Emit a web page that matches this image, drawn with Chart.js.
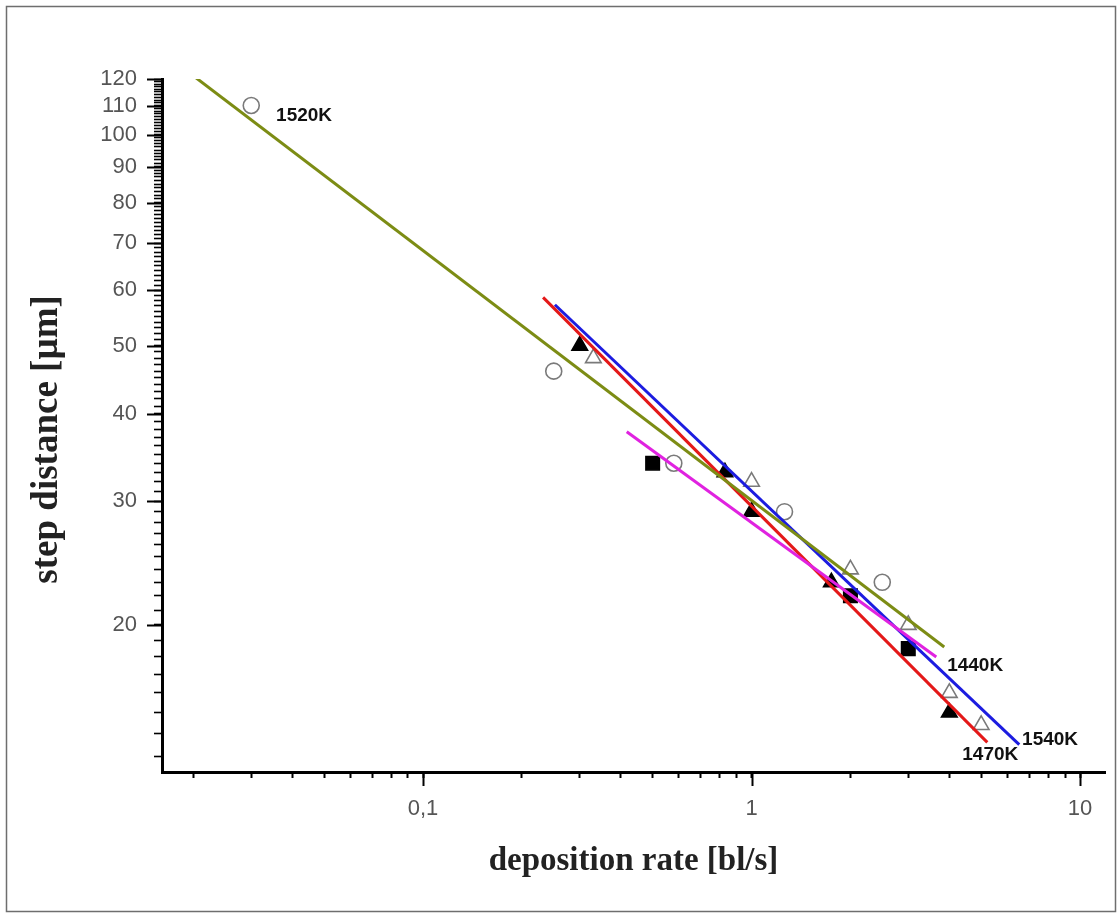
<!DOCTYPE html>
<html>
<head>
<meta charset="utf-8">
<script src="https://cdn.jsdelivr.net/npm/chart.js@4.4.1/dist/chart.umd.min.js"></script>
<style>
  html, body { margin: 0; padding: 0; background: #fff; }
  #wrap { position: relative; width: 1120px; height: 914px; }
</style>
</head>
<body>
<div id="wrap"><canvas id="c" width="1120" height="914"></canvas></div>
<script>
// ---- measured points (deposition rate [bl/s], step distance [µm]) ----
const rate1520 = [0.03, 0.25, 0.58, 1.26, 2.5];
const dist1520 = [110, 46, 34, 29, 23];
const rate1540 = [0.33, 1.0, 2.0, 3.0, 4.0, 5.0];
const dist1540 = [48, 32, 24, 20, 16, 14.4];
const rate1470 = [0.30, 0.83, 1.0, 1.75, 4.0];
const dist1470 = [50, 33, 29, 23, 15];
const rate1440 = [0.5, 2.0, 3.0];
const dist1440 = [34, 22, 18.5];

// ---- fitted lines (end points) ----
const fitRate1520 = [0.0203, 3.86];
const fitDist1520 = [120.6, 18.6];
const fitRate1540 = [0.252, 6.53];
const fitDist1540 = [57.2, 13.5];
const fitRate1470 = [0.232, 5.22];
const fitDist1470 = [58.6, 13.6];
const fitRate1440 = [0.417, 3.65];
const fitDist1440 = [37.7, 18.0];

// ---- tick values ----
const yMajorTicks = [20, 30, 40, 50, 60, 70, 80, 90, 100, 110, 120];
const yMinorTicks = [];
for (let v = 13; v <= 119; v++) if (!yMajorTicks.includes(v)) yMinorTicks.push(v);
const xMajorTicks = [0.1, 1, 10];
const xMajorLabels = ['0,1', '1', '10'];
const xMinorTicks = [0.02,0.03,0.04,0.05,0.06,0.07,0.08,0.09,0.2,0.3,0.4,0.5,0.6,0.7,0.8,0.9,2,3,4,5,6,7,8,9];

// ---- series labels (text, anchor rate, anchor distance) ----
const seriesLabels = ['1520K', '1440K', '1540K', '1470K'];
const seriesLabelRate = [0.0357, 3.94, 6.66, 4.38];
const seriesLabelDist = [106.4, 17.5, 13.7, 13.04];

const pts = (xs, ys) => xs.map((x, i) => ({x: x, y: ys[i]}));

const OLIVE = '#7c8c14';
const BLUE = '#1c1ce0';
const RED = '#e41818';
const MAGENTA = '#e022e0';

const extras = {
  id: 'extras',
  beforeDraw(chart) {
    const ctx = chart.ctx;
    ctx.save();
    ctx.fillStyle = '#fff';
    ctx.fillRect(0, 0, chart.width, chart.height);
    ctx.strokeStyle = '#6e6e6e';
    ctx.lineWidth = 1.5;
    ctx.strokeRect(6.5, 6.5, 1109, 905);
    ctx.restore();
  },
  afterDraw(chart) {
    const {ctx, scales: {x, y}, chartArea} = chart;
    ctx.save();
    ctx.strokeStyle = '#000';
    ctx.lineWidth = 2;
    // longer major ticks
    yMajorTicks.forEach(v => {
      const py = Math.round(y.getPixelForValue(v)) + 0.5;
      ctx.beginPath();
      ctx.moveTo(chartArea.left - 15, py);
      ctx.lineTo(chartArea.left, py);
      ctx.stroke();
    });
    xMajorTicks.forEach(v => {
      const px = Math.round(x.getPixelForValue(v)) + 0.5;
      ctx.beginPath();
      ctx.moveTo(px, chartArea.bottom);
      ctx.lineTo(px, chartArea.bottom + 14);
      ctx.stroke();
    });
    // series labels
    ctx.fillStyle = '#111';
    ctx.font = 'bold 19px "Liberation Sans", Arial, sans-serif';
    ctx.textAlign = 'left';
    ctx.textBaseline = 'middle';
    seriesLabels.forEach((t, i) => {
      ctx.fillText(t, x.getPixelForValue(seriesLabelRate[i]), y.getPixelForValue(seriesLabelDist[i]));
    });
    ctx.restore();
  }
};

const fitLine = (label, xs, ys, color) => ({
  label: label, data: pts(xs, ys), showLine: true, borderColor: color,
  borderWidth: 3, pointRadius: 0, fill: false, order: 0
});
const marks = (label, xs, ys, style, fillColor, strokeColor, radius) => ({
  label: label, data: pts(xs, ys), showLine: false, pointStyle: style,
  pointRadius: radius, pointBackgroundColor: fillColor, pointBorderColor: strokeColor,
  pointBorderWidth: 1.6, order: 1
});

new Chart(document.getElementById('c'), {
  type: 'scatter',
  data: {
    datasets: [
      marks('1520K data', rate1520, dist1520, 'circle', 'rgba(0,0,0,0)', '#7a7a7a', 8),
      marks('1540K data', rate1540, dist1540, 'triangle', 'rgba(0,0,0,0)', '#7a7a7a', 9),
      marks('1470K data', rate1470, dist1470, 'triangle', '#000', '#000', 9),
      marks('1440K data', rate1440, dist1440, 'rect', '#000', '#000', 9.5),
      fitLine('1520K fit', fitRate1520, fitDist1520, OLIVE),
      fitLine('1440K fit', fitRate1440, fitDist1440, MAGENTA),
      fitLine('1470K fit', fitRate1470, fitDist1470, RED),
      fitLine('1540K fit', fitRate1540, fitDist1540, BLUE)
    ]
  },
  options: {
    responsive: false,
    animation: false,
    events: [],
    layout: { padding: { top: 79, right: 15, left: 0, bottom: 0 } },
    plugins: { legend: { display: false }, tooltip: { enabled: false } },
    scales: {
      x: {
        type: 'logarithmic',
        min: 0.01605,
        max: 11.91,
        afterBuildTicks(scale) {
          scale.ticks = xMinorTicks.concat(xMajorTicks).sort((a, b) => a - b).map(v => ({value: v}));
        },
        afterFit(scale) { scale.height = 914 - 772; },
        ticks: {
          autoSkip: false, maxRotation: 0, minRotation: 0, padding: 18,
          color: '#555',
          font: { family: '"Liberation Sans", Arial, sans-serif', size: 22 },
          callback(value) {
            const i = xMajorTicks.indexOf(value);
            return i >= 0 ? xMajorLabels[i] : '';
          }
        },
        grid: { display: true, drawOnChartArea: false, drawTicks: true, tickLength: 6, tickColor: '#000', tickWidth: 2 },
        border: { display: true, color: '#000', width: 3 },
        title: {
          display: true, text: 'deposition rate [bl/s]', color: '#222',
          font: { family: '"Liberation Serif", "Times New Roman", serif', size: 33, weight: 'bold' },
          padding: { top: 0, bottom: 33 }
        }
      },
      y: {
        type: 'logarithmic',
        min: 12.34,
        max: 120,
        afterBuildTicks(scale) {
          scale.ticks = yMinorTicks.concat(yMajorTicks).sort((a, b) => a - b).map(v => ({value: v}));
        },
        afterFit(scale) { scale.width = 162; },
        ticks: {
          autoSkip: false, padding: 17, color: '#555',
          font: { family: '"Liberation Sans", Arial, sans-serif', size: 22 },
          callback(value) { return yMajorTicks.includes(value) ? String(value) : ''; }
        },
        grid: { display: true, drawOnChartArea: false, drawTicks: true, tickLength: 8, tickColor: '#000', tickWidth: 1.6 },
        border: { display: true, color: '#000', width: 3 },
        title: {
          display: true, text: 'step distance [µm]\u00a0\u00a0\u00a0', color: '#222',
          font: { family: '"Liberation Serif", "Times New Roman", serif', size: 37, weight: 'bold' },
          padding: { top: 25, bottom: 0 }
        }
      }
    }
  },
  plugins: [extras]
});
</script>
</body>
</html>
